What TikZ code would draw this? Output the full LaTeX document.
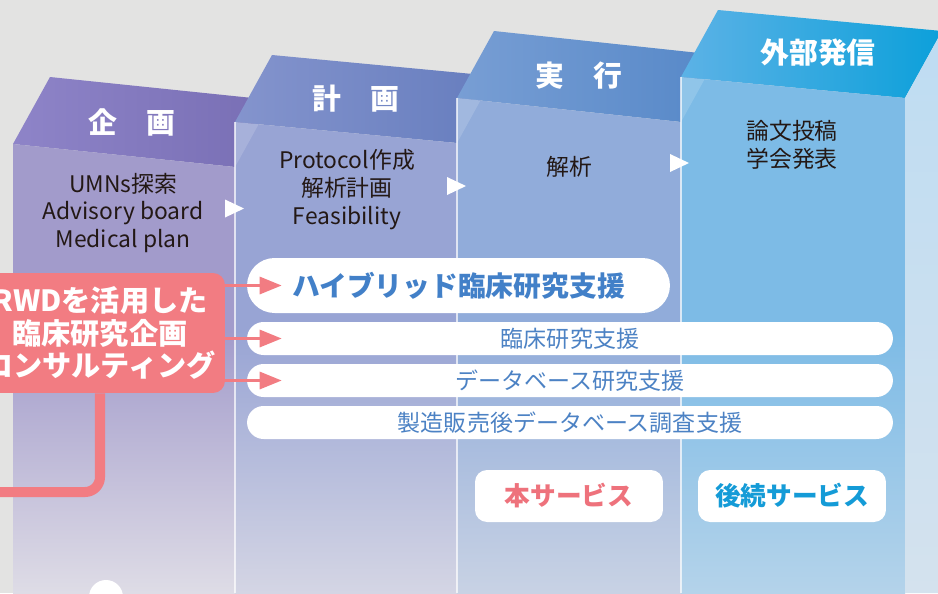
\documentclass[tikz,border=0pt]{standalone}
\usepackage{tikz}
\usetikzlibrary{calc,arrows.meta}
\usepackage{xcolor}
\usepackage{fontspec}
\setmainfont{Noto Sans CJK JP}

\definecolor{bggray}{RGB}{227,227,226}
\definecolor{inkdark}{RGB}{35,24,21}
\definecolor{rwdpink}{RGB}{242,124,130}
\definecolor{hybblue}{RGB}{66,128,200}
\definecolor{pillblue}{RGB}{76,130,196}
\definecolor{honpink}{RGB}{238,114,124}
\definecolor{kzblue}{RGB}{20,155,215}
% top faces (left / right)
\definecolor{topAl}{RGB}{142,132,200}
\definecolor{topAr}{RGB}{120,110,180}
\definecolor{topBl}{RGB}{132,148,205}
\definecolor{topBr}{RGB}{102,125,190}
\definecolor{topCl}{RGB}{120,158,212}
\definecolor{topCr}{RGB}{86,136,200}
\definecolor{topDl}{RGB}{92,178,230}
\definecolor{topDr}{RGB}{12,160,218}
% front faces (top / bottom)
\definecolor{frAt}{RGB}{162,155,203}
\definecolor{frAb}{RGB}{222,220,230}
\definecolor{frBt}{RGB}{152,164,212}
\definecolor{frBb}{RGB}{212,213,228}
\definecolor{frCt}{RGB}{145,172,218}
\definecolor{frCb}{RGB}{200,210,228}
\definecolor{frDt}{RGB}{125,187,230}
\definecolor{frDb}{RGB}{180,211,234}
\definecolor{sideDt}{RGB}{190,220,242}
\definecolor{sideDb}{RGB}{212,226,238}

\begin{document}
\begin{tikzpicture}
[x=0.02cm,y=-0.02cm,>={Triangle[length=0.44cm,width=0.34cm]},
 head/.style={text=white,font=\bfseries\fontsize{16.4}{18}\selectfont},
 body/.style={text=inkdark,align=center,font=\fontsize{13}{15.9}\selectfont},
 rwdbox/.style={fill=rwdpink,rounded corners=0.24cm,minimum width=5cm,minimum height=2.4cm,
   text=white,align=center,font=\bfseries\fontsize{16.6}{18.7}\selectfont},
 hybpill/.style={fill=white,rounded corners=0.55cm,minimum width=8.46cm,minimum height=1.1cm,
   inner sep=0pt,text=hybblue,font=\bfseries\fontsize{15.8}{18}\selectfont},
 pill/.style={fill=white,rounded corners=0.33cm,minimum width=12.92cm,minimum height=0.66cm,
   inner sep=0pt,text=pillblue,font=\fontsize{13.1}{15}\selectfont},
 service/.style={fill=white,rounded corners=0.24cm,minimum width=3.76cm,minimum height=1.04cm,
   inner sep=0pt,font=\bfseries\fontsize{14.6}{17}\selectfont},
 link/.style={draw=rwdpink,line width=1.7pt,->,shorten >=-0.7cm},
 seam/.style={draw=white,draw opacity=0.7,line width=0.6pt},
 glint/.style={fill=white,fill opacity=0.15},
]

\useasboundingbox (0,0) rectangle (938,593);
\fill[bggray] (0,0) rectangle (938,593);
\clip (0,0) rectangle (938,593);

%Column 1: 企画
\shade[left color=topAl,right color=topAr] (13,144) -- (50,77) -- (272,100) -- (235,167) -- cycle;
\fill[frAt] (13,144) -- (235,167) -- (235,593) -- (13,593) -- cycle;
\shade[top color=frAt,bottom color=frAb] (13,330) rectangle (235,593);

%Column 2: 計画
\shade[left color=topBl,right color=topBr] (235,122) -- (272,55) -- (494,76) -- (457,143) -- cycle;
\fill[frBt] (235,122) -- (457,143) -- (457,593) -- (235,593) -- cycle;
\shade[top color=frBt,bottom color=frBb] (235,330) rectangle (457,593);
\fill[glint] (235,122) -- (258.6,124.3) -- (235,167) -- cycle;

%Column 3: 実行
\shade[left color=topCl,right color=topCr] (457,98) -- (494,31) -- (718,55) -- (681,122) -- cycle;
\fill[frCt] (457,98) -- (681,122) -- (681,593) -- (457,593) -- cycle;
\shade[top color=frCt,bottom color=frCb] (457,330) rectangle (681,593);
\fill[glint] (457,98) -- (480.6,100.2) -- (457,143) -- cycle;

%Column 4: 外部発信
\shade[left color=topDl,right color=topDr] (681,77) -- (718,10) -- (942,31) -- (905,98) -- cycle;
\fill[frDt] (681,77) -- (905,98) -- (905,593) -- (681,593) -- cycle;
\shade[top color=frDt,bottom color=frDb] (681,330) rectangle (905,593);
\fill[glint] (681,77) -- (704.6,79.2) -- (681,122) -- cycle;
\shade[top color=sideDt,bottom color=sideDb] (905,98) -- (942,31) -- (942,593) -- (905,593) -- cycle;

%Seams
\draw[seam] (235,122) -- (235,593);
\draw[seam] (457,98) -- (457,593);
\draw[seam] (681,77) -- (681,593);

%Flow marks
\fill[white] (225,199.5) -- (244,208.5) -- (225,217.5) -- cycle;
\fill[white] (447,177) -- (466,186) -- (447,195) -- cycle;
\fill[white] (670,154) -- (689,163) -- (670,172) -- cycle;

%Headers
\node (hA) at (132,122)[head] {企　画};
\node (hB) at (356,99)[head] {計　画};
\node (hC) at (579,76)[head] {実　行};
\node (hD) at (818,53)[head] {外部発信};

%Column texts
\node (tA) at (123,213)[body] {UMNs探索\\Advisory board\\Medical plan};
\node (tB) at (347,190)[body] {Protocol作成\\解析計画\\Feasibility};
\node (tC) at (569,167)[body] {解析};
\node (tD) at (792,145)[body] {論文投稿\\学会発表};

%Support pills
\node (hyb) at (458.5,285.5)[hybpill] {ハイブリッド臨床研究支援};
\node (clin) at (570,338.5)[pill] {臨床研究支援};
\node (dbs) at (570,380.5)[pill] {データベース研究支援};
\node (pms) at (570,422.5)[pill] {製造販売後データベース調査支援};

%Services
\node (hon) at (569,496)[service,text=honpink] {本サービス};
\node (kz) at (792,496)[service,text=kzblue] {後続サービス};

%Consulting box
\node (rwd) at (100,333)[rwdbox] {RWDを活用した\\臨床研究企画\\コンサルティング};
\coordinate (lfree) at (-10,492);
\draw[rwdpink,line width=5.7pt,rounded corners=0.3cm] (rwd.south) -- (rwd.south |- lfree) -- (lfree);

\draw[link] (rwd.east |- hyb.west) -- (hyb.west);
\draw[link] (rwd.east |- clin.west) -- (clin.west);
\draw[link] (rwd.east |- dbs.west) -- (dbs.west);

%Page mark
\node (pg) at (106,597)[circle,fill=white,minimum size=0.68cm,inner sep=0pt] {};

\end{tikzpicture}
\end{document}
